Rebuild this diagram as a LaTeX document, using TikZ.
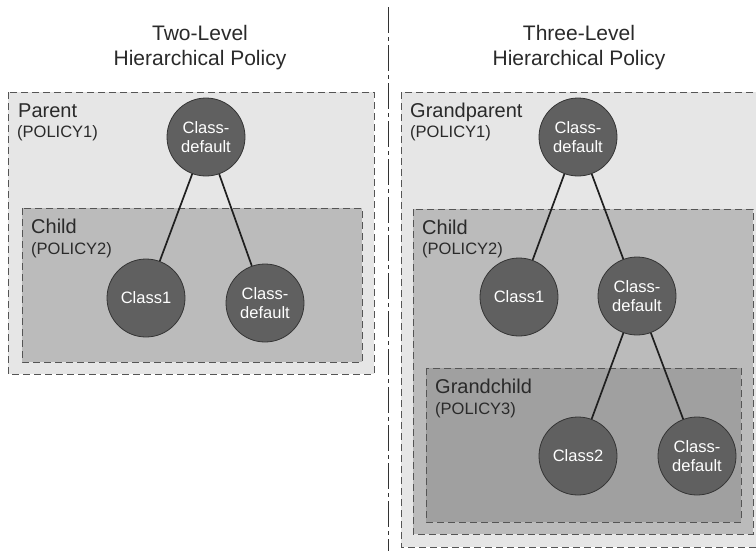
\documentclass[tikz,border=0pt]{standalone}
\usepackage{fontspec}
\setmainfont{Liberation Sans}
\definecolor{lvlA}{HTML}{E6E6E6}
\definecolor{lvlB}{HTML}{BBBBBB}
\definecolor{lvlC}{HTML}{A0A0A0}
\definecolor{ballfill}{HTML}{606060}
\definecolor{ballline}{HTML}{353535}
\definecolor{boxline}{HTML}{555555}
\definecolor{inktext}{HTML}{2A2A2A}
\tikzset{
  polbox/.style={draw=boxline, line width=0.9pt, dash pattern=on 7pt off 4pt},
  ball/.style={circle, draw=ballline, line width=0.8pt, fill=ballfill, minimum size=78pt, inner sep=0pt,
    text=white, align=center, font=\fontsize{16.5}{19}\selectfont},
  link/.style={draw=black!88, line width=1.7pt},
  titletext/.style={text=inktext, font=\fontsize{21}{25}\selectfont, align=center, anchor=base},
  lvltext/.style={text=inktext, font=\fontsize{20}{24}\selectfont, anchor=base west, inner sep=0pt},
  subtext/.style={text=inktext, font=\fontsize{16.5}{19}\selectfont, anchor=base west, inner sep=0pt},
  divider/.style={draw=black!80, line width=1pt, dash pattern=on 26pt off 4pt on 4pt off 4pt}
}
\begin{document}
\begin{tikzpicture}[x=1pt, y=-1pt]
\useasboundingbox (0,0) rectangle (756,550);
\clip (0,0) rectangle (756,550);
\fill[white] (0,0) rectangle (756,550);

% divider
\coordinate (divtop) at (388,7);
\coordinate (divbot) at (388,552);
\draw[divider] (divtop) -- (divbot);

% titles
\node[titletext] (t2a) at (200,40) {Two-Level};
\node[titletext] (t2b) at (200,65) {Hierarchical Policy};
\node[titletext] (t3a) at (579,40) {Three-Level};
\node[titletext] (t3b) at (579,65) {Hierarchical Policy};

% left boxes
\draw[polbox, fill=lvlA] (8,92) rectangle (374,374);
\draw[polbox, fill=lvlB] (22,208) rectangle (362,362);
\node[lvltext] (lpar) at (18,117) {Parent};
\node[subtext] (lparp) at (17,137) {(POLICY1)};
\node[lvltext] (lchi) at (31,233) {Child};
\node[subtext] (lchip) at (31,254) {(POLICY2)};

% right boxes
\draw[polbox, fill=lvlA] (401,92) rectangle (760,547);
\draw[polbox, fill=lvlB] (413,209) rectangle (753,534);
\draw[polbox, fill=lvlC] (426,368) rectangle (741,522);
\node[lvltext] (rgp) at (410,117) {Grandparent};
\node[subtext] (rgpp) at (410,137) {(POLICY1)};
\node[lvltext] (rchi) at (422,234) {Child};
\node[subtext] (rchip) at (422,254) {(POLICY2)};
\node[lvltext] (rgc) at (435,393) {Grandchild};
\node[subtext] (rgcp) at (435,414) {(POLICY3)};

% left tree
\node[ball] (ltop) at (206,137) {Class-\\default};
\node[ball] (lc1) at (146,298) {Class1};
\node[ball] (lcd) at (265,303) {Class-\\default};
\draw[link] (ltop) -- (lc1);
\draw[link] (ltop) -- (lcd);

% right tree
\node[ball] (rtop) at (578,137) {Class-\\default};
\node[ball] (rc1) at (519,297) {Class1};
\node[ball] (rcd) at (637,296) {Class-\\default};
\node[ball] (rc2) at (578,456) {Class2};
\node[ball] (rcd2) at (697,456) {Class-\\default};
\draw[link] (rtop) -- (rc1);
\draw[link] (rtop) -- (rcd);
\draw[link] (rcd) -- (rc2);
\draw[link] (rcd) -- (rcd2);
\end{tikzpicture}
\end{document}
